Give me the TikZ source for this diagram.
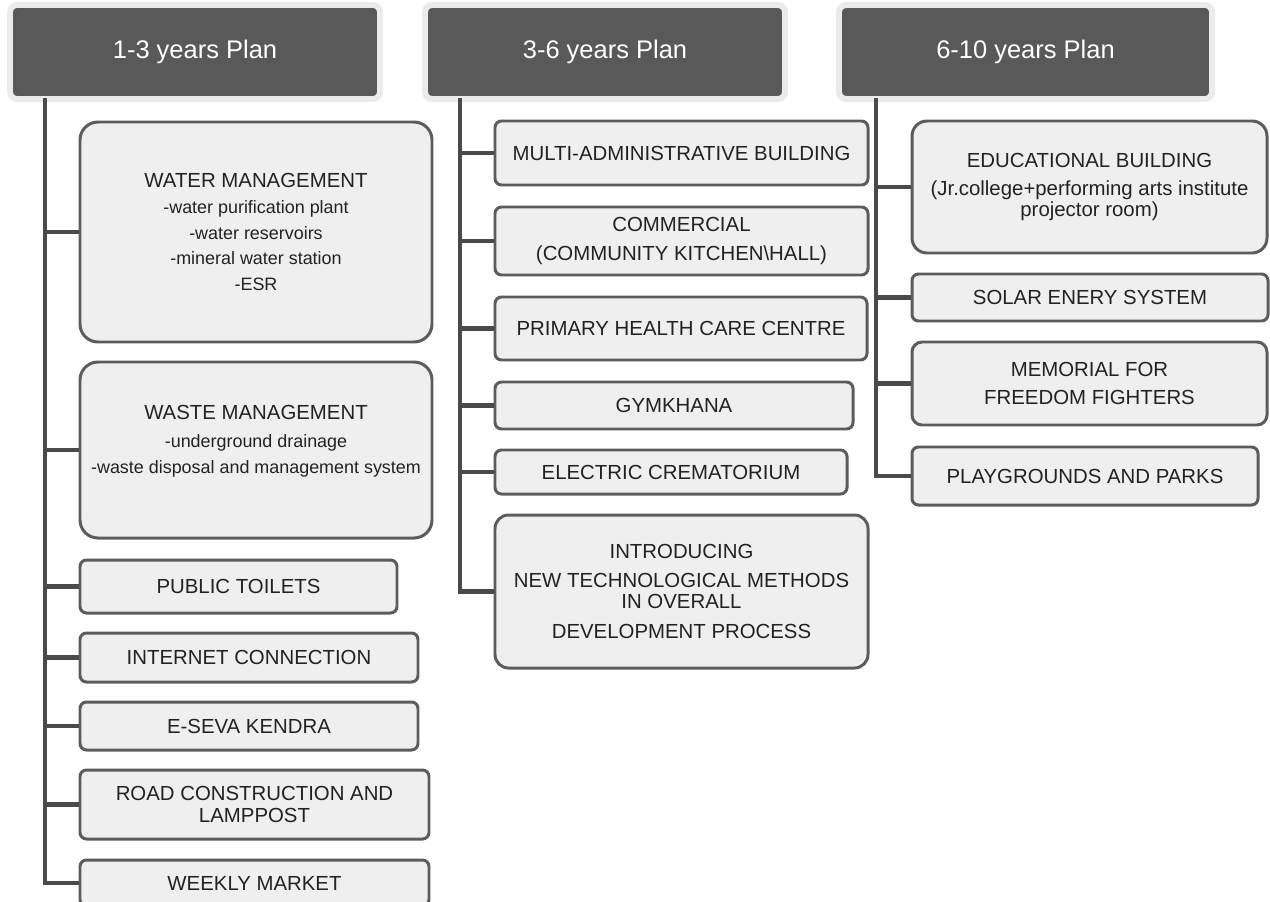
\documentclass[tikz,border=0pt]{standalone}
\usepackage{fontspec}
\setmainfont{Liberation Sans}
\usetikzlibrary{positioning}

\definecolor{hdrfill}{HTML}{595959}
\definecolor{hdrhalo}{HTML}{EBEBEB}
\definecolor{boxfill}{HTML}{EFEFEF}
\definecolor{boxline}{HTML}{5C5C5C}
\definecolor{linkgray}{HTML}{4A4A4A}
\definecolor{txtgray}{HTML}{222222}

\newcommand{\subtxt}{\fontsize{10.2}{14.7}\selectfont}

\begin{document}
\begin{tikzpicture}[
 hdr/.style={draw=hdrhalo,line width=3.4pt,fill=hdrfill,rounded corners=0.14cm,
  minimum height=1.88cm,inner sep=0pt,text=white,font=\fontsize{14.5}{16}\selectfont},
 item/.style={draw=boxline,line width=1.7pt,fill=boxfill,rounded corners=0.13cm,
  inner sep=0pt,align=center,text=txtgray,font=\fontsize{11.6}{12}\selectfont},
 link/.style={draw=linkgray,line width=2.8pt}]
\useasboundingbox (0,0) rectangle (25.4,-18.04);
% plan headers
\node[hdr,minimum width=7.40cm] (h1) at (3.9,-1.04) {1-3 years Plan};
\node[hdr,minimum width=7.20cm] (h2) at (12.1,-1.04) {3-6 years Plan};
\node[hdr,minimum width=7.46cm] (h3) at (20.51,-1.04) {6-10 years Plan};
\coordinate (t1) at (0.9,-1.96);
\coordinate (t2) at (9.2,-1.96);
\coordinate (t3) at (17.52,-1.96);
% 1-3 years
\node[item,rounded corners=0.36cm,minimum width=7.04cm,minimum height=4.4cm] (water) at (5.12,-4.64)
 {WATER MANAGEMENT\\[2.8pt]{\subtxt -water purification plant}\\[2.7pt]{\subtxt -water reservoirs}\\[2.7pt]
  {\subtxt -mineral water station}\\[2.7pt]{\subtxt -ESR}};
\node[item,rounded corners=0.36cm,minimum width=7.04cm,minimum height=3.52cm] (waste) at (5.12,-9.0)
 {WASTE MANAGEMENT\\[4pt]{\subtxt -underground drainage}\\[2.7pt]{\subtxt -waste disposal and management system}\\[0pt]\mbox{}};
\node[item,minimum width=6.34cm,minimum height=1.06cm] (toilets) at (4.77,-11.73) {PUBLIC TOILETS};
\node[item,minimum width=6.76cm,minimum height=0.98cm] (internet) at (4.98,-13.15) {INTERNET CONNECTION};
\node[item,minimum width=6.76cm,minimum height=0.96cm] (eseva) at (4.98,-14.52) {E-SEVA KENDRA};
\node[item,minimum width=6.98cm,minimum height=1.38cm] (road) at (5.09,-16.09) {ROAD CONSTRUCTION AND\\LAMPPOST};
\node[item,minimum width=6.98cm,minimum height=0.92cm] (market) at (5.09,-17.66) {WEEKLY MARKET};
% 3-6 years
\node[item,minimum width=7.46cm,minimum height=1.28cm] (admin) at (13.63,-3.06) {MULTI-ADMINISTRATIVE BUILDING};
\node[item,minimum width=7.46cm,minimum height=1.36cm] (kitchen) at (13.63,-4.82) {COMMERCIAL\\[4pt](COMMUNITY KITCHEN\textbackslash HALL)};
\node[item,minimum width=7.44cm,minimum height=1.26cm] (health) at (13.62,-6.57) {PRIMARY HEALTH CARE CENTRE};
\node[item,minimum width=7.16cm,minimum height=0.94cm] (gym) at (13.48,-8.11) {GYMKHANA};
\node[item,minimum width=7.04cm,minimum height=0.88cm] (crem) at (13.42,-9.44) {ELECTRIC CREMATORIUM};
\node[item,rounded corners=0.27cm,minimum width=7.46cm,minimum height=3.06cm] (tech) at (13.63,-11.83)
 {INTRODUCING\\[4pt]NEW TECHNOLOGICAL METHODS\\IN OVERALL\\[5pt]DEVELOPMENT PROCESS};
% 6-10 years
\node[item,rounded corners=0.3cm,minimum width=7.1cm,minimum height=2.64cm] (edu) at (21.79,-3.74)
 {EDUCATIONAL BUILDING\\[4pt](Jr.college+performing arts institute\\projector room)};
\node[item,minimum width=7.12cm,minimum height=0.94cm] (solar) at (21.8,-5.95) {SOLAR ENERY SYSTEM};
\node[item,rounded corners=0.2cm,minimum width=7.1cm,minimum height=1.66cm] (memorial) at (21.79,-7.67) {MEMORIAL FOR\\[4pt]FREEDOM FIGHTERS};
\node[item,minimum width=6.92cm,minimum height=1.16cm] (parks) at (21.7,-9.52) {PLAYGROUNDS AND PARKS};
% tree links
\draw[link] (t1) |- (water.west);
\draw[link] (t1) |- (waste.west);
\draw[link] (t1) |- (toilets.west);
\draw[link] (t1) |- (internet.west);
\draw[link] (t1) |- (eseva.west);
\draw[link] (t1) |- (road.west);
\draw[link] (t1) |- (market.west);
\draw[link] (t2) |- (admin.west);
\draw[link] (t2) |- (kitchen.west);
\draw[link] (t2) |- (health.west);
\draw[link] (t2) |- (gym.west);
\draw[link] (t2) |- (crem.west);
\draw[link] (t2) |- (tech.west);
\draw[link] (t3) |- (edu.west);
\draw[link] (t3) |- (solar.west);
\draw[link] (t3) |- (memorial.west);
\draw[link] (t3) |- (parks.west);
\end{tikzpicture}
\end{document}
